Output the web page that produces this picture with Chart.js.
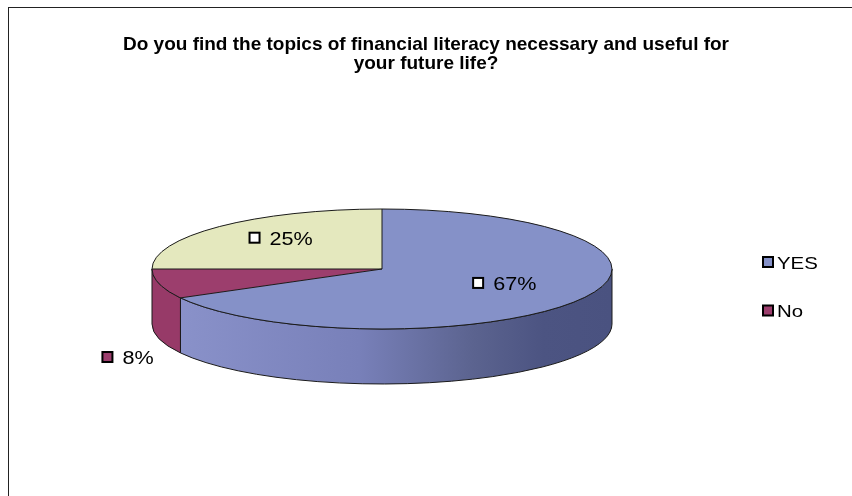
<!DOCTYPE html>
<html>
<head>
<meta charset="utf-8">
<script src="https://cdn.jsdelivr.net/npm/chart.js@4"></script>
<style>
  body { margin: 0; background: #fff; }
  #wrap { position: relative; width: 852px; height: 496px; overflow: hidden; }
  #frame { position: absolute; left: 8px; top: 7px; width: 900px; height: 600px;
           border-left: 1.5px solid #222; border-top: 1.5px solid #222; }
  canvas { position: absolute; left: 0; top: 0; }
</style>
</head>
<body>
<div id="wrap">
  <div id="frame"></div>
  <canvas id="pieChart" width="852" height="496"></canvas>
</div>
<script>
// DATA
var labels = ["YES", "No", ""];
var values = [67, 8, 25];
var topColors = ["#8591C8", "#9C3E6D", "#E4E8BE"];
var titleLines = ["Do you find the topics of financial literacy necessary and useful for", "your future life?"];

// where the tilted pie sits on the page
var view = { cx: 382, cy: 269, rx: 230, ry: 60, depth: 55 };
var FONT = "'Liberation Sans', Arial, sans-serif";
var STRETCH = 1.2; // the original text is a bit wide

function sideFill(ctx, i) {
  if (i !== 0) return "#973A68";
  var g = ctx.createLinearGradient(view.cx - view.rx, 0, view.cx + view.rx, 0);
  g.addColorStop(0, "#8C94CC");
  g.addColorStop(0.45, "#7880B9");
  g.addColorStop(0.7, "#5B638F");
  g.addColorStop(0.85, "#4C5482");
  g.addColorStop(1, "#4A5280");
  return g;
}

function wideText(ctx, text, x, y) {
  ctx.save();
  ctx.translate(x, y);
  ctx.scale(STRETCH, 1);
  ctx.fillText(text, 0, 0);
  ctx.restore();
}

function keyBox(ctx, x, y, color) {
  ctx.fillStyle = color;
  ctx.fillRect(x, y, 10, 10);
  ctx.strokeStyle = "#000";
  ctx.lineWidth = 2;
  ctx.strokeRect(x, y, 10, 10);
}

var pie3d = {
  id: "pie3d",
  beforeDatasetsDraw: function(chart) {
    var ctx = chart.ctx;
    var arcs = chart.getDatasetMeta(0).data;
    // front side walls
    arcs.forEach(function(arc, i) {
      var a1 = Math.max(arc.startAngle, 0), a2 = Math.min(arc.endAngle, Math.PI);
      if (a2 <= a1) return;
      ctx.save();
      ctx.beginPath();
      ctx.ellipse(view.cx, view.cy, view.rx, view.ry, 0, a1, a2);
      ctx.ellipse(view.cx, view.cy + view.depth, view.rx, view.ry, 0, a2, a1, true);
      ctx.closePath();
      ctx.fillStyle = sideFill(ctx, i);
      ctx.fill();
      ctx.strokeStyle = "#1a1a1a";
      ctx.lineWidth = 1;
      ctx.stroke();
      ctx.restore();
    });
    // squash the pie that Chart.js draws into the top face
    var a = arcs[0];
    ctx.save();
    ctx.translate(view.cx, view.cy);
    ctx.scale(view.rx / a.outerRadius, view.ry / a.outerRadius);
    ctx.translate(-a.x, -a.y);
  },
  afterDatasetsDraw: function(chart) {
    var ctx = chart.ctx;
    ctx.restore();
    var arcs = chart.getDatasetMeta(0).data;
    var total = values.reduce(function(s, v) { return s + v; }, 0);

    // outlines of top face
    ctx.save();
    ctx.strokeStyle = "#1a1a1a";
    ctx.lineWidth = 1;
    ctx.beginPath();
    ctx.ellipse(view.cx, view.cy, view.rx, view.ry, 0, 0, Math.PI * 2);
    ctx.stroke();
    arcs.forEach(function(arc) {
      ctx.beginPath();
      ctx.moveTo(view.cx, view.cy);
      ctx.lineTo(view.cx + Math.cos(arc.startAngle) * view.rx, view.cy + Math.sin(arc.startAngle) * view.ry);
      ctx.stroke();
    });
    ctx.restore();

    // data labels
    ctx.save();
    ctx.font = "18px " + FONT;
    ctx.textBaseline = "middle";
    arcs.forEach(function(arc, i) {
      var mid = (arc.startAngle + arc.endAngle) / 2;
      var pct = Math.round(values[i] / total * 100);
      var text = pct + "%";
      var tw = ctx.measureText(text).width * STRETCH;
      var w = 10 + 10 + tw;
      var x, y;
      if (pct >= 10) {
        x = view.cx + Math.cos(mid) * view.rx * 0.62;
        y = view.cy + Math.sin(mid) * view.ry * 0.62 - 4;
      } else {
        x = view.cx + Math.cos(mid) * view.rx * 1.14;
        y = view.cy + view.depth + Math.sin(mid) * view.ry * 1.14 + 17;
      }
      var left = x - w / 2;
      keyBox(ctx, left, y - 6, i === 1 ? topColors[i] : "#ffffff");
      ctx.fillStyle = "#000";
      ctx.textAlign = "left";
      wideText(ctx, text, left + 20, y + 1);
    });
    ctx.restore();
  },
  afterDraw: function(chart) {
    // legend (the unlabeled slice has no entry)
    var ctx = chart.ctx;
    ctx.save();
    ctx.font = "17px " + FONT;
    ctx.textBaseline = "middle";
    var row = 0;
    labels.forEach(function(lab, i) {
      if (!lab) return;
      var y = 263 + row * 48.5;
      keyBox(ctx, 763, y - 6, topColors[i]);
      ctx.fillStyle = "#000";
      wideText(ctx, lab, 777, y + 1);
      row++;
    });
    ctx.restore();
  }
};

new Chart("pieChart", {
  type: "pie",
  data: {
    labels: labels,
    datasets: [{
      data: values,
      backgroundColor: topColors,
      borderWidth: 0
    }]
  },
  options: {
    responsive: false,
    animation: false,
    events: [],
    plugins: {
      legend: { display: false },
      tooltip: { enabled: false },
      title: {
        display: true,
        text: titleLines,
        color: "#000",
        font: { family: FONT, size: 19, weight: "bold", lineHeight: 1.0 },
        padding: { top: 35, bottom: 10 }
      }
    }
  },
  plugins: [pie3d]
});
</script>
</body>
</html>
